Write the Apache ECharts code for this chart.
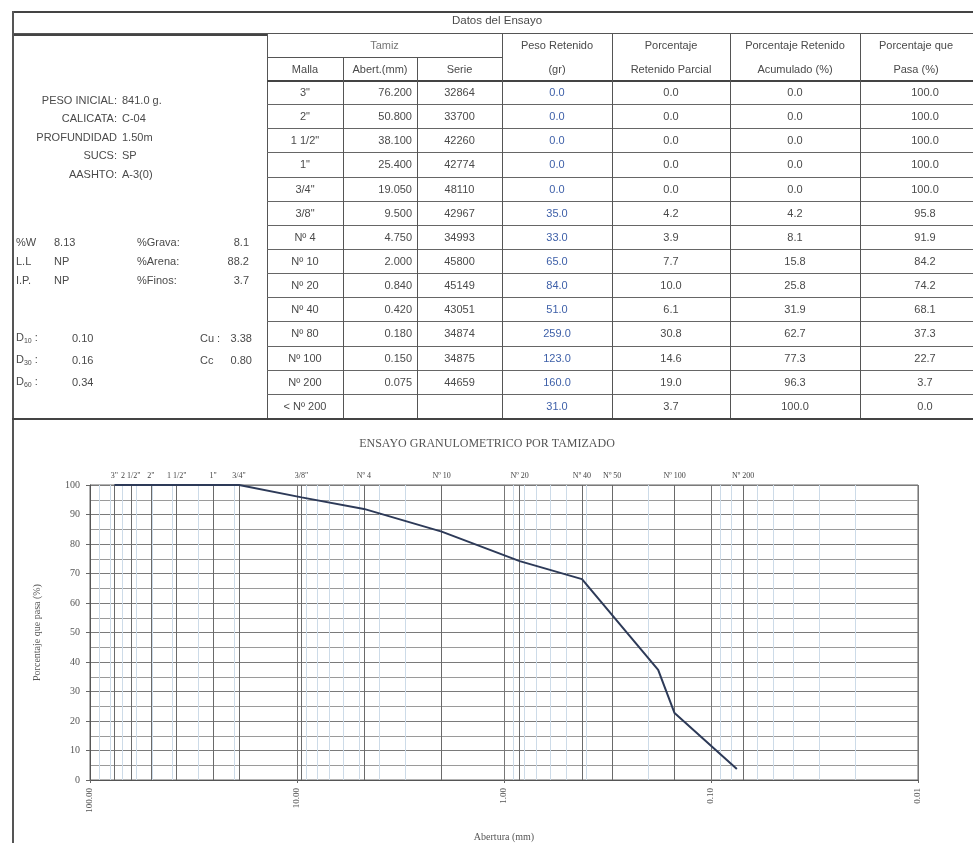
<!DOCTYPE html>
<html><head><meta charset="utf-8">
<script src="https://cdn.jsdelivr.net/npm/echarts@6/dist/echarts.min.js"></script>
<style>
html,body{margin:0;padding:0;background:#fff;}
#chart{position:absolute;left:0;top:0;width:973px;height:843px;}
#sheet{position:absolute;left:0;top:0;width:973px;height:843px;pointer-events:none;font-family:"Liberation Sans",Arial,sans-serif;color:#4a4a4a;font-size:11px;}
.t{position:absolute;white-space:nowrap;line-height:1;}
.ln{position:absolute;background:#555;}
sub{font-size:7px;vertical-align:-2px;}
</style></head><body>
<div id="chart"></div><div id="sheet"></div>
<script>
// ---------------- data ----------------
const mallas = ['3"', '2"', '1 1/2"', '1"', '3/4"', '3/8"', 'Nº 4', 'Nº 10', 'Nº 20', 'Nº 40', 'Nº 80', 'Nº 100', 'Nº 200', '< Nº 200'];
const aberturas = [76.2, 50.8, 38.1, 25.4, 19.05, 9.5, 4.75, 2.0, 0.84, 0.42, 0.18, 0.15, 0.075, null];
const serie = ['32864', '33700', '42260', '42774', '48110', '42967', '34993', '45800', '45149', '43051', '34874', '34875', '44659', ''];
const pesoRetenido = [0, 0, 0, 0, 0, 35, 33, 65, 84, 51, 259, 123, 160, 31];
const retenidoParcial = [0, 0, 0, 0, 0, 4.2, 3.9, 7.7, 10.0, 6.1, 30.8, 14.6, 19.0, 3.7];
const retenidoAcumulado = [0, 0, 0, 0, 0, 4.2, 8.1, 15.8, 25.8, 31.9, 62.7, 77.3, 96.3, 100.0];
const pasa = [100, 100, 100, 100, 100, 95.8, 91.9, 84.2, 74.2, 68.1, 37.3, 22.7, 3.7, 0.0];

const infoLabels = ['PESO INICIAL:', 'CALICATA:', 'PROFUNDIDAD', 'SUCS:', 'AASHTO:'];
const infoValues = ['841.0 g.', 'C-04', '1.50m', 'SP', 'A-3(0)'];
const propLabels = ['%W', 'L.L', 'I.P.'];
const propValues = ['8.13', 'NP', 'NP'];
const fracLabels = ['%Grava:', '%Arena:', '%Finos:'];
const fracValues = ['8.1', '88.2', '3.7'];
const dLabels = ['10', '30', '60'];
const dValues = ['0.10', '0.16', '0.34'];
const coefLabels = ['Cu :', 'Cc'];
const coefValues = ['3.38', '0.80'];

const sieveNames = ['3"', '2 1/2"', '2"', '1 1/2"', '1"', '3/4"', '3/8"', 'Nº 4', 'Nº 10', 'Nº 20', 'Nº 40', 'Nº 50', 'Nº 100', 'Nº 200'];
const sieveMm = [76.2, 63.5, 50.8, 38.1, 25.4, 19.05, 9.5, 4.75, 2.0, 0.84, 0.42, 0.30, 0.15, 0.075];

const xTickLabels = ['100.00', '10.00', '1.00', '0.10', '0.01'];

// ---------------- sheet (table) ----------------
const sheet = document.getElementById('sheet');
function line(x, y, w, h, c) {
  const d = document.createElement('div'); d.className = 'ln';
  d.style.left = x + 'px'; d.style.top = y + 'px'; d.style.width = w + 'px'; d.style.height = h + 'px';
  if (c) d.style.background = c;
  sheet.appendChild(d);
}
function txt(s, x, y, align, style) {
  const d = document.createElement('div'); d.className = 't';
  d.innerHTML = s;
  d.style.left = x + 'px'; d.style.top = y + 'px';
  const tx = align === 'c' ? '-50%' : (align === 'r' ? '-100%' : '0');
  d.style.transform = 'translate(' + tx + ',-50%)';
  if (style) Object.assign(d.style, style);
  sheet.appendChild(d);
}
const colX = [267, 343, 417, 502, 612, 730, 860, 990];
const rowTop = 80, rowH = 24.14, nRows = mallas.length;
const tableBottom = rowTop + rowH * nRows;

// frame
line(12, 11, 961, 1.5, '#444');
line(12, 33, 961, 1, '#555');
line(12, 34, 255, 2, '#444');
line(12, 11, 2, 832, '#555');
line(12, tableBottom, 961, 2, '#444');
line(colX[0], 33, 1, tableBottom - 33);
line(colX[0], 57, colX[3] - colX[0], 1);
line(colX[0], rowTop, 973 - colX[0], 1.5, '#444');
for (let i = 1; i < nRows; i++) line(colX[0], rowTop + i * rowH, 973 - colX[0], 1, '#666');
[1, 2].forEach(k => line(colX[k], 57, 1, tableBottom - 57));
[3, 4, 5, 6].forEach(k => line(colX[k], 33, 1, tableBottom - 33));

txt('Datos del Ensayo', 497, 21, 'c', {fontSize: '11.5px'});
txt('Tamiz', (colX[0] + colX[3]) / 2, 45, 'c', {color: '#777'});
txt('Malla', (colX[0] + colX[1]) / 2, 69, 'c');
txt('Abert.(mm)', (colX[1] + colX[2]) / 2, 69, 'c');
txt('Serie', (colX[2] + colX[3]) / 2, 69, 'c');
const hdr = [['Peso Retenido', '(gr)'], ['Porcentaje', 'Retenido Parcial'], ['Porcentaje Retenido', 'Acumulado (%)'], ['Porcentaje que', 'Pasa (%)']];
hdr.forEach((h, k) => {
  const cx = k === 3 ? 916 : (colX[3 + k] + colX[4 + k]) / 2;
  txt(h[0], cx, 45, 'c'); txt(h[1], cx, 69, 'c');
});
for (let i = 0; i < nRows; i++) {
  const cy = rowTop + (i + 0.5) * rowH;
  txt(mallas[i], (colX[0] + colX[1]) / 2, cy, 'c');
  if (aberturas[i] !== null) txt(aberturas[i].toFixed(3), colX[2] - 5, cy, 'r');
  txt(serie[i], (colX[2] + colX[3]) / 2, cy, 'c');
  txt(pesoRetenido[i].toFixed(1), (colX[3] + colX[4]) / 2, cy, 'c', {color: '#3d5fa8'});
  txt(retenidoParcial[i].toFixed(1), (colX[4] + colX[5]) / 2, cy, 'c');
  txt(retenidoAcumulado[i].toFixed(1), (colX[5] + colX[6]) / 2, cy, 'c');
  txt(pasa[i].toFixed(1), 925, cy, 'c');
}
// left panel
infoLabels.forEach((l, i) => {
  const cy = 100 + i * 18.4;
  txt(l, 117, cy, 'r'); txt(infoValues[i], 122, cy, 'l');
});
propLabels.forEach((l, i) => {
  const cy = 242 + i * 19;
  txt(l, 16, cy, 'l'); txt(propValues[i], 54, cy, 'l');
  txt(fracLabels[i], 137, cy, 'l'); txt(fracValues[i], 249, cy, 'r');
});
dLabels.forEach((l, i) => {
  const cy = 338 + i * 22;
  txt('D<sub>' + l + '</sub> :', 16, cy, 'l'); txt(dValues[i], 72, cy, 'l');
});
coefLabels.forEach((l, i) => {
  const cy = 338 + i * 22;
  txt(l, 200, cy, 'l'); txt(coefValues[i], 252, cy, 'r');
});

// ---------------- chart ----------------
const chart = echarts.init(document.getElementById('chart'), null, {renderer: 'canvas'});
const curve = [];
for (let i = 0; i < aberturas.length; i++) if (aberturas[i] !== null) curve.push([aberturas[i], pasa[i]]);
// log-grid minor lines (2..9 of each decade)
const minorLines = [];
[0.01, 0.1, 1, 10].forEach(d => { for (let k = 2; k <= 9; k++) minorLines.push({xAxis: +(d * k).toPrecision(3)}); });

const serif = '"Liberation Serif","DejaVu Serif",serif';
chart.setOption({
  backgroundColor: '#fff',
  animation: false,
  title: {
    text: 'ENSAYO GRANULOMETRICO POR TAMIZADO', left: 482, top: 433, textAlign: 'center',
    textStyle: {fontFamily: serif, fontSize: 12, fontWeight: 'normal', color: '#555'}
  },
  grid: {left: 90, right: 55, top: 485, bottom: 63, show: true, borderColor: '#666', borderWidth: 1},
  xAxis: {
    type: 'log', logBase: 10, min: 0.01, max: 100, inverse: true,
    name: 'Abertura (mm)', nameLocation: 'middle', nameGap: 52,
    nameTextStyle: {fontFamily: serif, fontSize: 10, color: '#555'},
    axisLine: {show: true, lineStyle: {color: '#555'}},
    axisTick: {show: true, length: 3, lineStyle: {color: '#666'}},
    axisLabel: {rotate: 90, fontFamily: serif, fontSize: 9, color: '#555', margin: 8,
      formatter: v => { const s = v.toFixed(2); return xTickLabels.indexOf(s) >= 0 ? s : ''; }},
    splitLine: {show: true, lineStyle: {color: '#777', width: 1}}
  },
  yAxis: {
    type: 'value', min: 0, max: 100, interval: 10,
    name: 'Porcentaje que pasa (%)', nameLocation: 'middle', nameGap: 48, nameRotate: 90,
    nameTextStyle: {fontFamily: serif, fontSize: 10, color: '#555'},
    axisLine: {show: true, lineStyle: {color: '#555'}},
    axisTick: {show: true, length: 4, lineStyle: {color: '#666'}},
    axisLabel: {fontFamily: serif, fontSize: 10, color: '#555', margin: 10},
    splitLine: {show: true, lineStyle: {color: '#7a7a7a', width: 1}},
    minorTick: {show: false, splitNumber: 2},
    minorSplitLine: {show: true, lineStyle: {color: '#9a9a9a', width: 1}}
  },
  series: [
    {
      type: 'line', data: [], silent: true,
      markLine: {silent: true, symbol: 'none', animation: false, label: {show: false},
        lineStyle: {color: '#cddbe8', type: 'solid', width: 1}, data: minorLines}
    },
    {
      type: 'line', data: [], silent: true,
      markLine: {silent: true, symbol: 'none', animation: false,
        label: {show: true, position: 'end', formatter: p => p.name, fontFamily: serif, fontSize: 8, color: '#444', distance: 5},
        lineStyle: {color: '#6a6a6a', type: 'solid', width: 1},
        data: sieveMm.map((v, i) => ({xAxis: v, name: sieveNames[i]}))}
    },
    {
      type: 'line', data: curve, showSymbol: false, symbol: 'none', z: 10,
      lineStyle: {color: '#2d3a58', width: 2}
    }
  ]
});
</script>
</body></html>
